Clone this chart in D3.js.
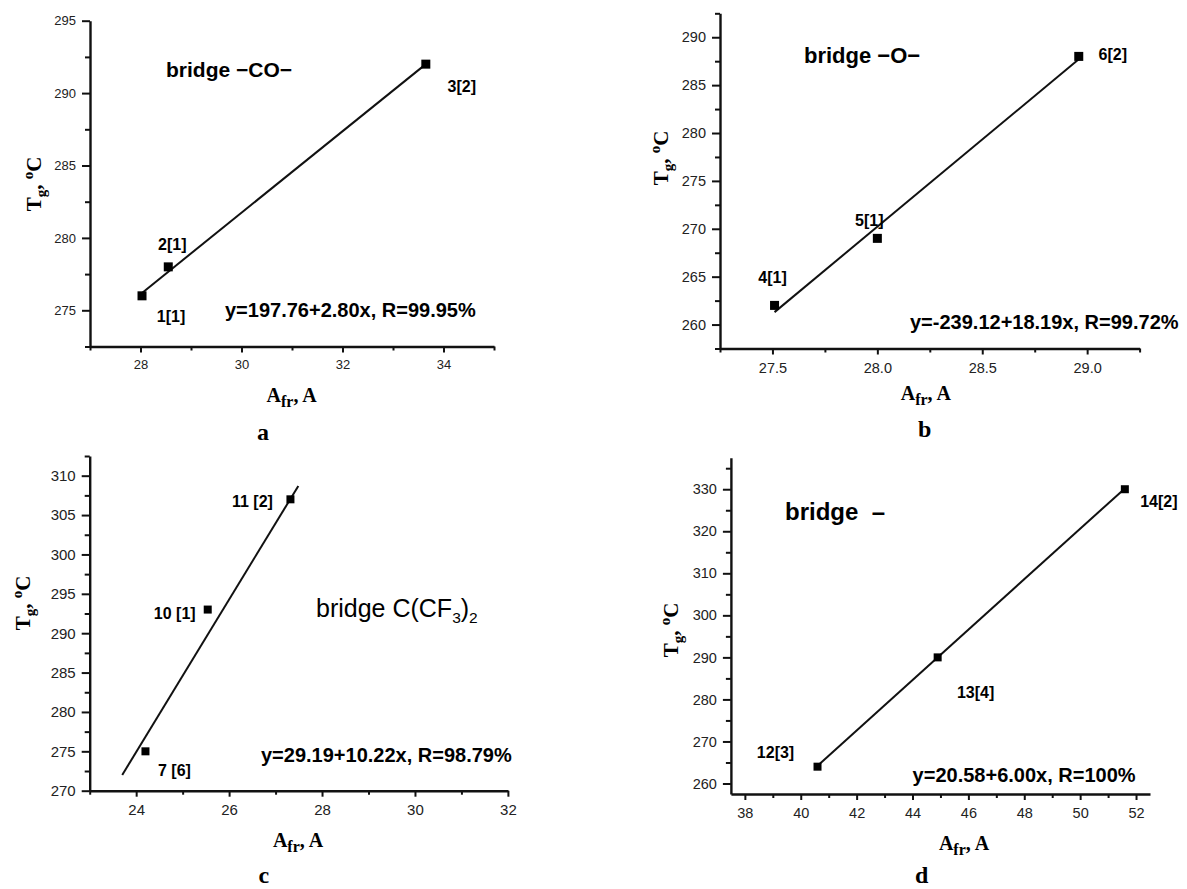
<!DOCTYPE html>
<html>
<head>
<meta charset="utf-8">
<script src="https://cdn.jsdelivr.net/npm/d3@7"></script>
<style>
  html, body { margin: 0; padding: 0; background: #fff; }
  svg { display: block; }
</style>
</head>
<body>
<svg id="chart" width="1187" height="889"></svg>
<script>
// ---- panel a : bridge -CO-
const afrA = [28.03, 28.55, 33.65];
const tgA = [276, 278, 292];
const ptLabelsA = ['1[1]', '2[1]', '3[2]'];
const fitXA = [28.03, 33.65];
const fitYA = [276.2, 292.0];
const xTicksA = [28, 30, 32, 34];
const xMinorA = [27, 29, 31, 33, 35];
const yTicksA = [275, 280, 285, 290, 295];
const yMinorA = [272.5, 277.5, 282.5, 287.5, 292.5];
const eqA = 'y=197.76+2.80x, R=99.95%';

// ---- panel b : bridge -O-
const afrB = [27.51, 28.0, 28.96];
const tgB = [262, 269, 288];
const ptLabelsB = ['4[1]', '5[1]', '6[2]'];
const fitXB = [27.51, 28.96];
const fitYB = [261.3, 287.7];
const xTicksB = [27.5, 28.0, 28.5, 29.0];
const xMinorB = [27.25, 27.75, 28.25, 28.75, 29.25];
const yTicksB = [260, 265, 270, 275, 280, 285, 290];
const yMinorB = [257.5, 262.5, 267.5, 272.5, 277.5, 282.5, 287.5, 292.5];
const eqB = 'y=-239.12+18.19x, R=99.72%';

// ---- panel c : bridge C(CF3)2
const afrC = [24.2, 25.54, 27.32];
const tgC = [275, 293, 307];
const ptLabelsC = ['7 [6]', '10 [1]', '11 [2]'];
const fitXC = [23.7, 27.49];
const fitYC = [272, 308.7];
const xTicksC = [24, 26, 28, 30, 32];
const xMinorC = [23, 25, 27, 29, 31];
const yTicksC = [270, 275, 280, 285, 290, 295, 300, 305, 310];
const yMinorC = [272.5, 277.5, 282.5, 287.5, 292.5, 297.5, 302.5, 307.5, 312.5];
const eqC = 'y=29.19+10.22x, R=98.79%';

// ---- panel d : bridge -
const afrD = [40.6, 44.9, 51.6];
const tgD = [264, 290, 330];
const ptLabelsD = ['12[3]', '13[4]', '14[2]'];
const fitXD = [40.6, 51.6];
const fitYD = [264.2, 330.2];
const xTicksD = [38, 40, 42, 44, 46, 48, 50, 52];
const xMinorD = [39, 41, 43, 45, 47, 49, 51];
const yTicksD = [260, 270, 280, 290, 300, 310, 320, 330];
const yMinorD = [265, 275, 285, 295, 305, 315, 325, 335];
const eqD = 'y=20.58+6.00x, R=100%';

const SANS = '"Liberation Sans", Arial, sans-serif';
const SERIF = '"Liberation Serif", "Times New Roman", serif';

const panels = [
  { letter: 'a', left: 90, right: 494, top: 20.7, bottom: 346.5,
    xDomain: [27, 35], yDomain: [272.5, 295],
    afr: afrA, tg: tgA, labels: ptLabelsA, fitX: fitXA, fitY: fitYA,
    xTicks: xTicksA, xMinor: xMinorA, yTicks: yTicksA, yMinor: yMinorA, xFmt: d3.format('d'),
    tickFont: 13, xPad: 7, marker: 9,
    eq: eqA, eqPos: [225, 317],
    bridge: 'bridge \u2212CO\u2212', bridgePos: [166, 77], bridgeSize: 21,
    lblOff: [[29, 21], [4, -22], [36, 22]],
    xLab: [291.7, 402], yLab: [41, 184], letterPos: [263, 440] },
  { letter: 'b', left: 720, right: 1139.6, top: 13.3, bottom: 348.5,
    xDomain: [27.25, 29.25], yDomain: [257.5, 292.5],
    afr: afrB, tg: tgB, labels: ptLabelsB, fitX: fitXB, fitY: fitYB,
    xTicks: xTicksB, xMinor: xMinorB, yTicks: yTicksB, yMinor: yMinorB, xFmt: d3.format('.1f'),
    tickFont: 14.5, xPad: 8, marker: 9,
    eq: eqB, eqPos: [910, 329],
    bridge: 'bridge \u2212O\u2212', bridgePos: [804, 63], bridgeSize: 22,
    lblOff: [[-2, -28], [-8, -18], [34, -2]],
    xLab: [925.8, 400], yLab: [668, 158], letterPos: [924.7, 437] },
  { letter: 'c', left: 89.7, right: 507.9, top: 456, bottom: 790.7,
    xDomain: [23, 32], yDomain: [270, 312.5],
    afr: afrC, tg: tgC, labels: ptLabelsC, fitX: fitXC, fitY: fitYC,
    xTicks: xTicksC, xMinor: xMinorC, yTicks: yTicksC, yMinor: yMinorC, xFmt: d3.format('d'),
    tickFont: 15, xPad: 8, marker: 8,
    eq: eqC, eqPos: [261, 762],
    bridge: null, bridgePos: [316, 617], bridgeSize: 25,
    lblOff: [[29, 19], [-33, 4], [-38, 2]],
    xLab: [298, 847], yLab: [30, 603], letterPos: [263.8, 883] },
  { letter: 'd', left: 730.9, right: 1150, top: 457.7, bottom: 794,
    xDomain: [37.5, 52.5], yDomain: [257.5, 337.5],
    afr: afrD, tg: tgD, labels: ptLabelsD, fitX: fitXD, fitY: fitYD,
    xTicks: xTicksD, xMinor: xMinorD, yTicks: yTicksD, yMinor: yMinorD, xFmt: d3.format('d'),
    tickFont: 14.5, xPad: 8, marker: 8,
    eq: eqD, eqPos: [912.6, 782],
    bridge: 'bridge\u00a0\u00a0\u2013', bridgePos: [785, 520], bridgeSize: 24,
    lblOff: [[-42, -14], [38, 35], [34, 12]],
    xLab: [964, 850], yLab: [678, 630], letterPos: [921.7, 883] }
];

const svg = d3.select('#chart');

function styleAxis(sel, p) {
  sel.select('.domain').attr('stroke', '#111').attr('stroke-width', 2.4);
  sel.selectAll('.tick line').attr('stroke', '#111').attr('stroke-width', 2);
  sel.selectAll('.tick text')
    .attr('fill', '#222')
    .attr('font-family', SANS)
    .attr('font-size', p.tickFont);
}

function drawPanel(p) {
  const x = d3.scaleLinear().domain(p.xDomain).range([p.left, p.right]);
  const y = d3.scaleLinear().domain(p.yDomain).range([p.bottom, p.top]);
  const g = svg.append('g').attr('class', 'panel-' + p.letter);

  // minor ticks (no labels)
  g.append('g').attr('transform', `translate(0,${p.bottom})`)
    .call(d3.axisBottom(x).tickValues(p.xMinor).tickSize(4).tickSizeOuter(0).tickFormat(''))
    .call(s => { styleAxis(s, p); s.select('.domain').remove(); });
  g.append('g').attr('transform', `translate(${p.left},0)`)
    .call(d3.axisLeft(y).tickValues(p.yMinor).tickSize(5).tickSizeOuter(0).tickFormat(''))
    .call(s => { styleAxis(s, p); s.select('.domain').remove(); });

  // major axes
  g.append('g').attr('transform', `translate(0,${p.bottom})`)
    .call(d3.axisBottom(x).tickValues(p.xTicks).tickSize(6).tickPadding(p.xPad).tickSizeOuter(0).tickFormat(p.xFmt))
    .call(s => styleAxis(s, p));
  g.append('g').attr('transform', `translate(${p.left},0)`)
    .call(d3.axisLeft(y).tickValues(p.yTicks).tickSize(8).tickPadding(6).tickSizeOuter(0).tickFormat(d3.format('d')))
    .call(s => styleAxis(s, p));

  // fit line
  g.append('path')
    .datum(d3.zip(p.fitX, p.fitY))
    .attr('fill', 'none').attr('stroke', '#111').attr('stroke-width', 2)
    .attr('d', d3.line().x(d => x(d[0])).y(d => y(d[1])));

  // markers
  const pts = d3.zip(p.afr, p.tg, p.labels);
  g.selectAll('rect.pt').data(pts).enter().append('rect')
    .attr('class', 'pt')
    .attr('x', d => x(d[0]) - p.marker / 2)
    .attr('y', d => y(d[1]) - p.marker / 2)
    .attr('width', p.marker).attr('height', p.marker)
    .attr('fill', '#000');

  // point labels
  g.selectAll('text.plbl').data(pts).enter().append('text')
    .attr('class', 'plbl')
    .attr('x', (d, i) => x(d[0]) + p.lblOff[i][0])
    .attr('y', (d, i) => y(d[1]) + p.lblOff[i][1] + 5.5)
    .attr('text-anchor', 'middle')
    .attr('font-family', SANS).attr('font-weight', 'bold').attr('font-size', 16)
    .text(d => d[2]);

  // equation
  g.append('text')
    .attr('x', p.eqPos[0]).attr('y', p.eqPos[1])
    .attr('font-family', SANS).attr('font-weight', 'bold').attr('font-size', 20)
    .text(p.eq);

  // bridge caption
  if (p.bridge) {
    g.append('text')
      .attr('x', p.bridgePos[0]).attr('y', p.bridgePos[1])
      .attr('font-family', SANS).attr('font-weight', 'bold').attr('font-size', p.bridgeSize)
      .style('white-space', 'pre')
      .text(p.bridge);
  } else {
    const t = g.append('text')
      .attr('x', p.bridgePos[0]).attr('y', p.bridgePos[1])
      .attr('font-family', SANS).attr('font-size', p.bridgeSize);
    t.append('tspan').text('bridge C(CF');
    t.append('tspan').attr('font-size', p.bridgeSize * 0.62).attr('dy', 6).text('3');
    t.append('tspan').attr('dy', -6).text(')');
    t.append('tspan').attr('font-size', p.bridgeSize * 0.62).attr('dy', 6).text('2');
  }

  // x axis title  A_fr, A
  const xl = g.append('text')
    .attr('x', p.xLab[0]).attr('y', p.xLab[1])
    .attr('text-anchor', 'middle')
    .attr('font-family', SERIF).attr('font-weight', 'bold').attr('font-size', 20);
  xl.append('tspan').text('A');
  xl.append('tspan').attr('font-size', 16).attr('dy', 5).text('fr');
  xl.append('tspan').attr('dy', -5).text(', A');

  // y axis title  T_g, °C
  const yl = g.append('text')
    .attr('transform', `translate(${p.yLab[0]},${p.yLab[1]}) rotate(-90)`)
    .attr('text-anchor', 'middle')
    .attr('font-family', SERIF).attr('font-weight', 'bold').attr('font-size', 21);
  yl.append('tspan').text('T');
  yl.append('tspan').attr('font-size', 15).attr('dy', 5).text('g');
  yl.append('tspan').attr('dy', -5).text(', ');
  yl.append('tspan').attr('font-size', 15).attr('dy', -8).text('o');
  yl.append('tspan').attr('dy', 8).text('C');

  // panel letter
  g.append('text')
    .attr('x', p.letterPos[0]).attr('y', p.letterPos[1])
    .attr('text-anchor', 'middle')
    .attr('font-family', SERIF).attr('font-weight', 'bold').attr('font-size', 24)
    .text(p.letter);
}

panels.forEach(drawPanel);
</script>
</body>
</html>
